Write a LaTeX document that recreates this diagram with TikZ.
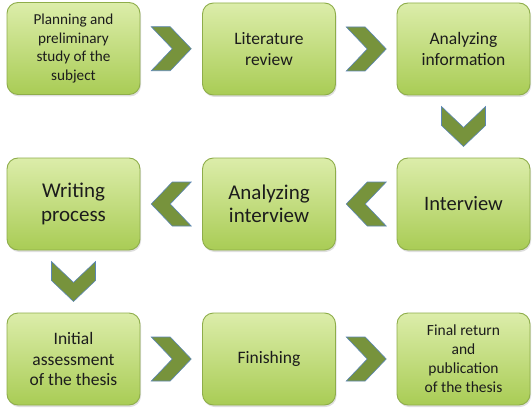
\documentclass[tikz,border=0pt]{standalone}
\usepackage{fontspec}
\setmainfont{Carlito}
\usetikzlibrary{shadows,calc}
\definecolor{boxtop}{HTML}{DCEDAA}
\definecolor{boxbot}{HTML}{A9CC55}
\definecolor{boxline}{HTML}{8EAD4A}
\definecolor{chevfill}{HTML}{77933C}
\definecolor{chevline}{HTML}{5B86B5}
\definecolor{txt}{HTML}{1C1C1C}
\tikzset{
  stagebox/.style={rounded corners=11pt, draw=boxline, line width=0.9pt,
    top color=boxtop, bottom color=boxbot, minimum width=133pt, minimum height=92pt,
    align=center, text=txt, inner sep=2pt,
    drop shadow={opacity=0.25, shadow xshift=1pt, shadow yshift=-2pt}},
  chevstyle/.style={fill=chevfill, draw=chevline, line width=0.6pt, line join=miter},
  pics/chev/.style={code={
    \path[chevstyle] (-20,-22) -- (-1,-22) -- (20,0) -- (-1,22) -- (-20,22) -- (1,0) -- cycle;
  }}
}
\begin{document}
\begin{tikzpicture}[x=1pt,y=-1pt]
\useasboundingbox (0,0) rectangle (532,417);
% row 1
\node[stagebox, font=\fontsize{15.2}{18.6}\selectfont] (b1) at (73.5,48.5) {Planning and\\preliminary\\study of the\\subject};
\node[stagebox, font=\fontsize{17.5}{20.5}\selectfont] (b2) at (269,49) {Literature\\review};
\node[stagebox, font=\fontsize{17.5}{20.5}\selectfont] (b3) at (463.5,49) {Analyzing\\information};
% row 2
\node[stagebox, font=\fontsize{21}{23.5}\selectfont] (b6) at (73.5,204) {Writing\\process};
\node[stagebox, font=\fontsize{21}{23.5}\selectfont] (b5) at (269,204) {Analyzing\\interview};
\node[stagebox, font=\fontsize{20.5}{23.5}\selectfont] (b4) at (463.5,204) {Interview};
% row 3
\node[stagebox, font=\fontsize{17.5}{20.5}\selectfont] (b7) at (73.5,359) {Initial\\assessment\\of the thesis};
\node[stagebox, font=\fontsize{17.5}{20.5}\selectfont] (b8) at (269,359) {Finishing};
\node[stagebox, font=\fontsize{15.5}{19}\selectfont] (b9) at (463.5,359) {Final return\\and\\publication\\of the thesis};
% chevrons
\pic at ($(b1.east)!0.5!(b2.west)$) {chev};
\pic at ($(b2.east)!0.5!(b3.west)$) {chev};
\pic[rotate=-90] at ($(b3.south)!0.5!(b4.north)$) {chev};
\pic[rotate=180] at ($(b4.west)!0.5!(b5.east)$) {chev};
\pic[rotate=180] at ($(b5.west)!0.5!(b6.east)$) {chev};
\pic[rotate=-90] at ($(b6.south)!0.5!(b7.north)$) {chev};
\pic at ($(b7.east)!0.5!(b8.west)$) {chev};
\pic at ($(b8.east)!0.5!(b9.west)$) {chev};
\end{tikzpicture}
\end{document}
